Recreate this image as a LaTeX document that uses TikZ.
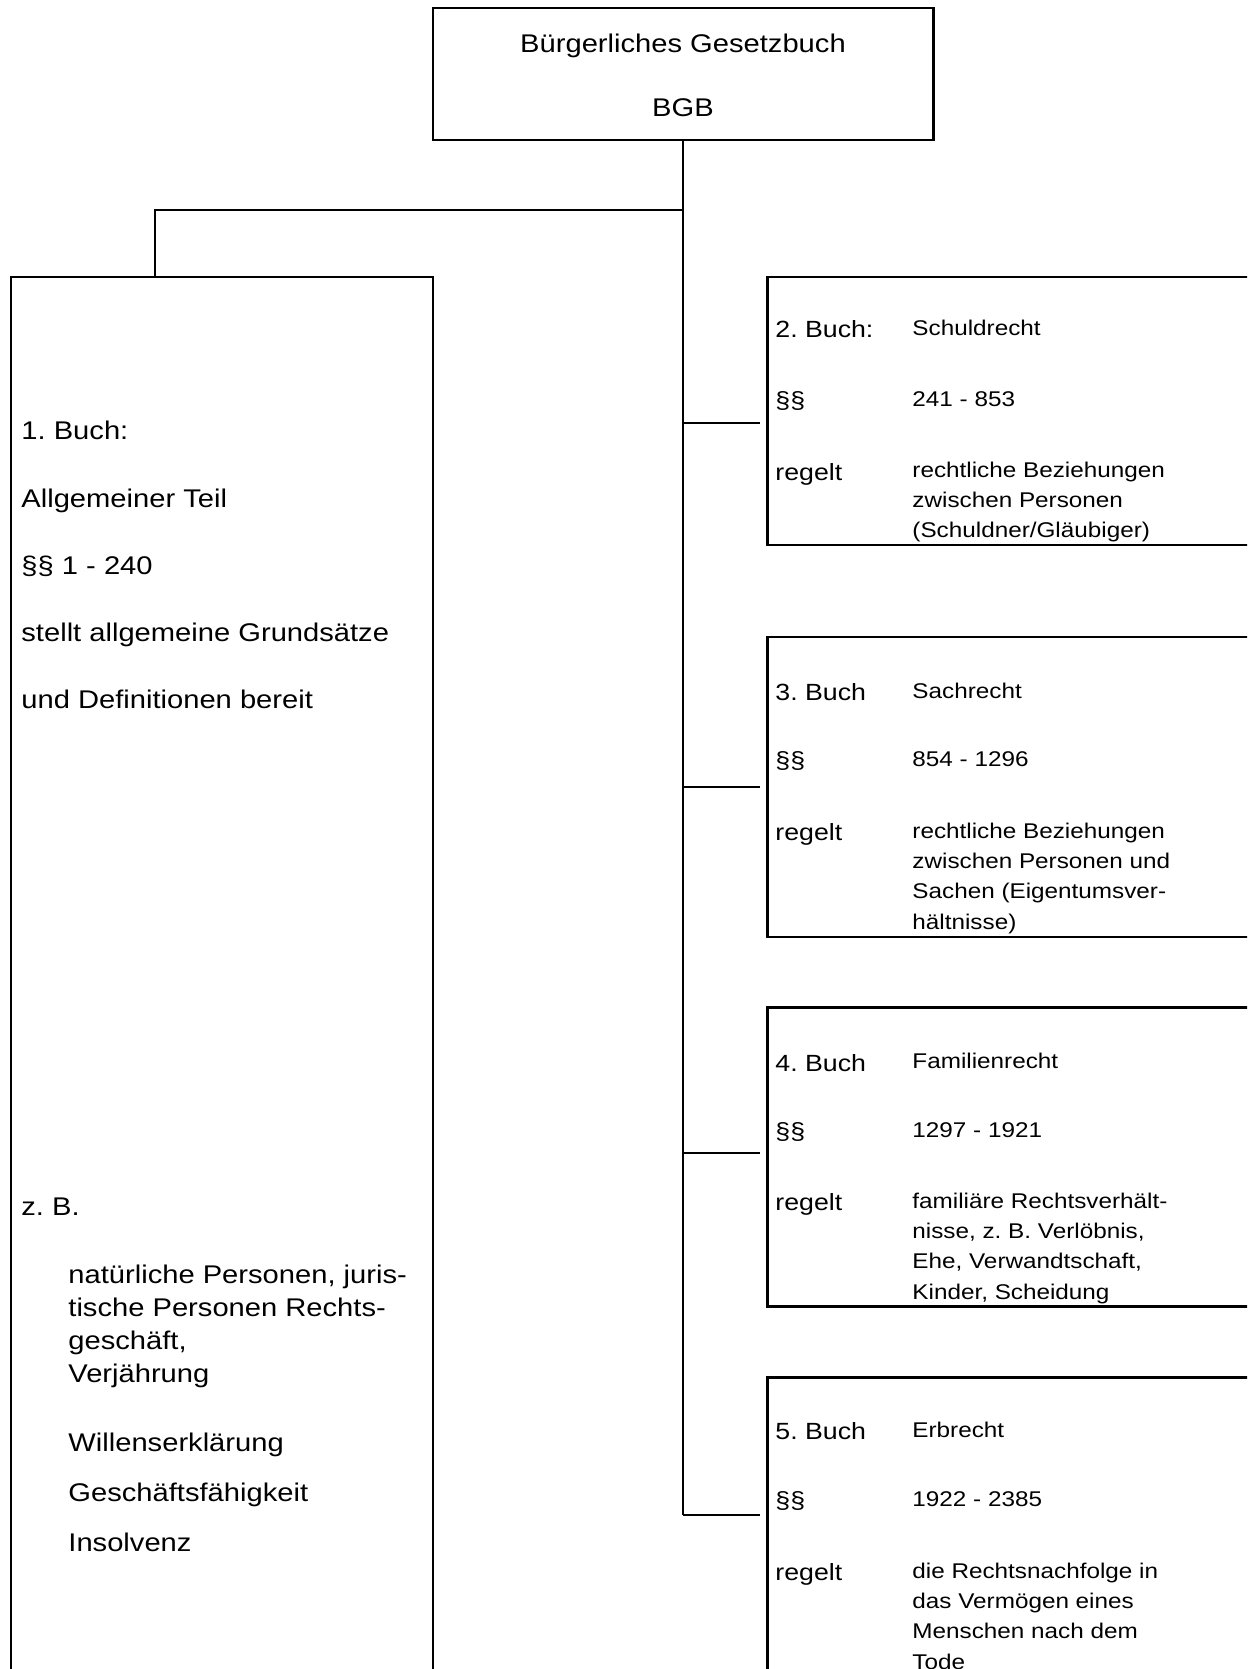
\documentclass[tikz,border=0pt]{standalone}
\usepackage{fontspec}
\setmainfont{Liberation Sans}[FakeStretch=1.14]
\frenchspacing
\newlength\pu
\setlength\pu{0.4695pt}
\newcommand\zeilen[1]{\begin{tabular}[t]{@{}l@{}}#1\end{tabular}}

\begin{document}
\begin{tikzpicture}[x=0.4695pt, y=-0.4695pt,
        kasten/.style={draw, line width=1.4pt, inner sep=0pt, outer sep=0pt, anchor=north west},
        linie/.style={line width=1pt},
        gross/.style={font=\fontsize{12}{14}\selectfont, inner sep=0pt, anchor=base west},
        titel/.style={gross, anchor=base},
        mittel/.style={font=\fontsize{11}{13}\selectfont, inner sep=0pt, anchor=base west},
        klein/.style={font=\fontsize{10}{14.3}\selectfont, inner sep=0pt, anchor=base west}]
        \useasboundingbox (0,0) rectangle (1247,1669);
        \clip (0,0) rectangle (1247,1669);

        \node[kasten, minimum width=500\pu, minimum height=132\pu] (bgb) at (433,8) {};
        \node[titel] (bgbname) at (683,53) {Bürgerliches Gesetzbuch};
        \node[titel] (bgbkurz) at (683,117) {BGB};

        \node[kasten, minimum width=422\pu, minimum height=1500\pu] (buch1) at (11,277) {};
        \node[kasten, minimum width=600\pu, minimum height=268\pu] (buch2) at (767,277) {};
        \node[kasten, minimum width=600\pu, minimum height=300\pu] (buch3) at (767,637) {};
        \node[kasten, minimum width=600\pu, minimum height=299\pu] (buch4) at (767,1007) {};
        \node[kasten, minimum width=600\pu, minimum height=400\pu] (buch5) at (767,1377) {};

        \coordinate (gabel) at (155,210);
        \foreach \b/\d in {2/146, 3/150, 4/146, 5/138}
            \coordinate (an\b) at ([yshift=-\d\pu]buch\b.north west);

        \draw[linie] (bgb.south) -- (bgb.south |- an5);
        \draw[linie] (bgb.south |- gabel) -- (gabel) -- (gabel |- buch1.north);
        \foreach \b in {2,...,5}
            \draw[linie, shorten >=3.5pt] (bgb.south |- an\b) -- (an\b);

        \node[gross, font=\fontsize{12}{31.5}\selectfont] (teil1) at (21,440)
            {\zeilen{1. Buch:\\Allgemeiner Teil\\§§ 1 - 240\\stellt allgemeine Grundsätze\\und Definitionen bereit}};
        \node[gross] (zb) at (21,1215) {z. B.};
        \node[gross, font=\fontsize{12}{15.5}\selectfont] (beispiele) at (68,1283)
            {\zeilen{natürliche Personen, juris-\\tische Personen Rechts-\\geschäft,\\Verjährung}};
        \node[gross, font=\fontsize{12}{23.7}\selectfont] (weitere) at (68,1451)
            {\zeilen{Willenserklärung\\Geschäftsfähigkeit\\Insolvenz}};

        \node[mittel] (b2nr) at (775,338) {2. Buch:};
        \node[klein] (b2titel) at (912,336) {Schuldrecht};
        \node[mittel] (b2par) at (775,409) {§§};
        \node[klein] (b2bereich) at (912,407) {241 - 853};
        \node[mittel] (b2regelt) at (775,480) {regelt};
        \node[klein] (b2text) at (912,477) {\zeilen{rechtliche Beziehungen\\zwischen Personen\\(Schuldner/Gläubiger)}};

        \node[mittel] (b3nr) at (775,700) {3. Buch};
        \node[klein] (b3titel) at (912,698) {Sachrecht};
        \node[mittel] (b3par) at (775,768) {§§};
        \node[klein] (b3bereich) at (912,766) {854 - 1296};
        \node[mittel] (b3regelt) at (775,840) {regelt};
        \node[klein] (b3text) at (912,838) {\zeilen{rechtliche Beziehungen\\zwischen Personen und\\Sachen (Eigentumsver-\\hältnisse)}};

        \node[mittel] (b4nr) at (775,1071) {4. Buch};
        \node[klein] (b4titel) at (912,1068) {Familienrecht};
        \node[mittel] (b4par) at (775,1139) {§§};
        \node[klein] (b4bereich) at (912,1137) {1297 - 1921};
        \node[mittel] (b4regelt) at (775,1210) {regelt};
        \node[klein] (b4text) at (912,1208) {\zeilen{familiäre Rechtsverhält-\\nisse, z. B. Verlöbnis,\\Ehe, Verwandtschaft,\\Kinder, Scheidung}};

        \node[mittel] (b5nr) at (775,1439) {5. Buch};
        \node[klein] (b5titel) at (912,1437) {Erbrecht};
        \node[mittel] (b5par) at (775,1508) {§§};
        \node[klein] (b5bereich) at (912,1506) {1922 - 2385};
        \node[mittel] (b5regelt) at (775,1580) {regelt};
        \node[klein] (b5text) at (912,1578) {\zeilen{die Rechtsnachfolge in\\das Vermögen eines\\Menschen nach dem\\Tode}};
    \end{tikzpicture}
\end{document}
